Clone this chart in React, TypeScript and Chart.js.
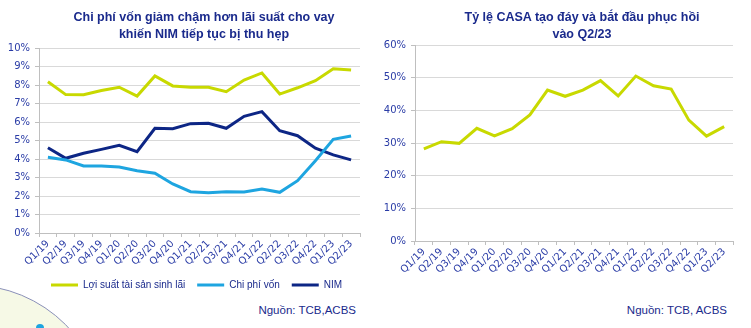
import React, { useEffect, useRef } from 'react';
import { Chart, registerables } from 'chart.js';

Chart.register(...registerables);

const quarters = [
  'Q1/19', 'Q2/19', 'Q3/19', 'Q4/19', 'Q1/20', 'Q2/20', 'Q3/20', 'Q4/20', 'Q1/21',
  'Q2/21', 'Q3/21', 'Q4/21', 'Q1/22', 'Q2/22', 'Q3/22', 'Q4/22', 'Q1/23', 'Q2/23',
];

const yieldLabel = 'Lợi suất tài sản sinh lãi';
const costLabel = 'Chi phí vốn';
const nimLabel = 'NIM';

const yieldValues = [8.18, 7.48, 7.47, 7.7, 7.88, 7.4, 8.49, 7.95, 7.88, 7.88, 7.64, 8.27, 8.65, 7.51, 7.85, 8.23, 8.88, 8.81];
const costValues = [4.09, 3.95, 3.62, 3.62, 3.57, 3.37, 3.23, 2.65, 2.23, 2.18, 2.23, 2.22, 2.38, 2.2, 2.83, 3.91, 5.06, 5.24];
const nimValues = [4.61, 4.04, 4.31, 4.52, 4.74, 4.4, 5.66, 5.64, 5.91, 5.93, 5.66, 6.31, 6.56, 5.53, 5.26, 4.58, 4.22, 3.95];

const casaLabel = 'CASA';
const casaValues = [28.2, 30.4, 29.9, 34.5, 32.2, 34.4, 38.6, 46.2, 44.3, 46.2, 49.1, 44.4, 50.5, 47.5, 46.5, 37.0, 32.1, 35.0];

const leftTitle = ['Chi phí vốn giảm chậm hơn lãi suất cho vay', 'khiến NIM tiếp tục bị thu hẹp'];
const rightTitle = ['Tỷ lệ CASA tạo đáy và bắt đầu phục hồi', 'vào Q2/23'];
const leftSource = 'Nguồn: TCB,ACBS';
const rightSource = 'Nguồn: TCB, ACBS';

const YELLOW = '#c8d900';
const CYAN = '#1ea5e0';
const NAVY = '#0d2685';
const TICK_COLOR = '#2a3ca6';
const TITLE_COLOR = '#1a2a8c';
const GRID = '#d9d9d9';
const AXIS = '#bfbfbf';
const TICK_FONT = { family: '"DejaVu Sans", Verdana, sans-serif', size: 10 };
const ARIAL = '"Liberation Sans", Arial, sans-serif';

function xScale(height: number) {
  return {
    type: 'category' as const,
    offset: true,
    grid: { display: true, drawOnChartArea: false, offset: true, tickLength: 4, tickColor: AXIS, color: AXIS },
    border: { color: AXIS },
    ticks: { autoSkip: false, maxRotation: 45, minRotation: 45, color: TICK_COLOR, font: TICK_FONT, padding: 1 },
    afterFit: (s: any) => { s.height = height; },
  };
}

function yScale(max: number, step: number, width: number) {
  return {
    min: 0,
    max,
    ticks: { stepSize: step, color: TICK_COLOR, font: TICK_FONT, padding: 5, callback: (v: any) => v + '%' },
    grid: { color: GRID, tickColor: AXIS, tickLength: 4, lineWidth: 1 },
    border: { color: AXIS },
    afterFit: (s: any) => { s.width = width; },
  };
}

function LeftChart() {
  const ref = useRef<HTMLCanvasElement>(null);
  useEffect(() => {
    const chart = new Chart(ref.current!, {
      type: 'line',
      data: {
        labels: quarters,
        datasets: [
          { label: yieldLabel, data: yieldValues, borderColor: YELLOW, backgroundColor: YELLOW, borderWidth: 3, pointRadius: 0 },
          { label: costLabel, data: costValues, borderColor: CYAN, backgroundColor: CYAN, borderWidth: 3, pointRadius: 0 },
          { label: nimLabel, data: nimValues, borderColor: NAVY, backgroundColor: NAVY, borderWidth: 3, pointRadius: 0 },
        ],
      },
      options: {
        responsive: false,
        animation: false,
        layout: { padding: { top: 48, left: 0, right: 15, bottom: 0 } },
        scales: { x: xScale(35) as any, y: yScale(10, 1, 39) as any },
        plugins: {
          title: { display: false },
          tooltip: { enabled: false },
          legend: {
            display: true,
            position: 'bottom',
            align: 'start',
            fullSize: false,
            labels: {
              boxWidth: 27,
              boxHeight: 3,
              padding: 12,
              color: TITLE_COLOR,
              font: { family: ARIAL, size: 10 },
              generateLabels: (c: any) =>
                (Chart.defaults.plugins.legend.labels.generateLabels as any)(c).map((l: any) => ({
                  ...l,
                  fillStyle: l.strokeStyle,
                  lineWidth: 0,
                })),
            },
          },
        },
      },
    });
    return () => chart.destroy();
  }, []);
  return <canvas ref={ref} width={375} height={300} style={{ position: 'absolute', left: 0, top: 0, width: 375, height: 300 }} />;
}

function RightChart() {
  const ref = useRef<HTMLCanvasElement>(null);
  useEffect(() => {
    const chart = new Chart(ref.current!, {
      type: 'line',
      data: {
        labels: quarters,
        datasets: [
          { label: casaLabel, data: casaValues, borderColor: YELLOW, backgroundColor: YELLOW, borderWidth: 3, pointRadius: 0 },
        ],
      },
      options: {
        responsive: false,
        animation: false,
        layout: { padding: { top: 45, left: 0, right: 18, bottom: 24 } },
        scales: { x: xScale(35) as any, y: yScale(60, 10, 40) as any },
        plugins: {
          title: { display: false },
          tooltip: { enabled: false },
          legend: { display: false },
        },
      },
    });
    return () => chart.destroy();
  }, []);
  return <canvas ref={ref} width={376} height={300} style={{ position: 'absolute', left: 375, top: 0, width: 376, height: 300 }} />;
}

function Title({ lines, cx }: { lines: string[]; cx: number }) {
  return (
    <div
      style={{
        position: 'absolute',
        left: cx - 170,
        width: 340,
        top: 9,
        textAlign: 'center',
        fontFamily: ARIAL,
        fontWeight: 700,
        fontSize: 12.5,
        lineHeight: '17px',
        color: TITLE_COLOR,
      }}
    >
      {lines.map((l, i) => (
        <div key={i}>{l}</div>
      ))}
    </div>
  );
}

function Source({ text, right }: { text: string; right: number }) {
  return (
    <div
      style={{
        position: 'absolute',
        left: right - 200,
        width: 200,
        top: 303,
        textAlign: 'right',
        fontFamily: ARIAL,
        fontSize: 11.5,
        lineHeight: '14px',
        color: TITLE_COLOR,
      }}
    >
      {text}
    </div>
  );
}

export default function App() {
  return (
    <div style={{ position: 'absolute', left: 0, top: 0, width: 751, height: 328, background: '#ffffff', overflow: 'hidden' }}>
      <svg width={120} height={50} style={{ position: 'absolute', left: 0, top: 278 }}>
        <circle cx={-30} cy={142} r={135} fill="#f6f9e6" stroke="#8a90b8" strokeWidth={1} />
        <circle cx={40} cy={50} r={4} fill={CYAN} />
      </svg>
      <LeftChart />
      <RightChart />
      <Title lines={leftTitle} cx={204} />
      <Title lines={rightTitle} cx={582} />
      <Source text={leftSource} right={356} />
      <Source text={rightSource} right={727} />
    </div>
  );
}
